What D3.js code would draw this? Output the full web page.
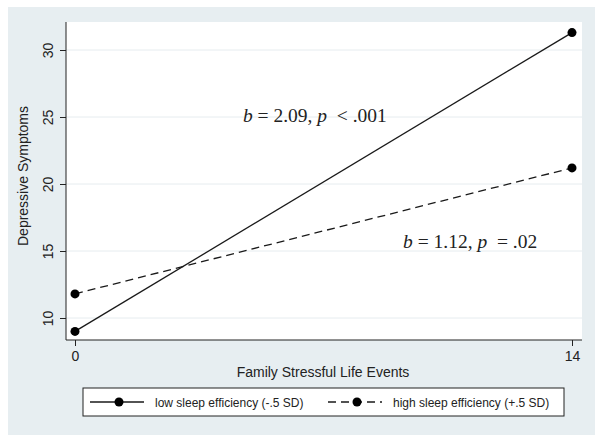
<!DOCTYPE html>
<html>
<head>
<meta charset="utf-8">
<script src="https://cdn.jsdelivr.net/npm/d3@7"></script>
<style>
  body { margin: 0; background: #fff; }
  text { font-family: "Liberation Sans", Arial, sans-serif; fill: #222; }
  .note { white-space: pre; }
</style>
</head>
<body>
<div id="chart"></div>
<script>
// chart values
var xValues = [0, 14];
var lowSleep = [9.0, 31.3];
var highSleep = [11.8, 21.2];
var yTicks = [10, 15, 20, 25, 30];
var xTicks = [0, 14];
var seriesNames = ["low sleep efficiency (-.5 SD)", "high sleep efficiency (+.5 SD)"];
var annotations = [
  {b: "2.09", op: "<", p: ".001", x: 4.73, y: 24.63},
  {b: "1.12", op: "=", p: ".02", x: 9.24, y: 15.22}
];

var width = 604, height = 444;
var plot = {left: 66, right: 582, top: 22, bottom: 340};

var svg = d3.select("#chart").append("svg")
  .attr("width", width)
  .attr("height", height);

// outer stata-style background
svg.append("rect")
  .attr("x", 8).attr("y", 7)
  .attr("width", 587).attr("height", 428)
  .attr("fill", "#e7eef1");

svg.append("rect")
  .attr("x", plot.left).attr("y", plot.top)
  .attr("width", plot.right - plot.left).attr("height", plot.bottom - plot.top)
  .attr("fill", "#fff");

var x = d3.scaleLinear().domain([0, 14]).range([75, 572]);
var y = d3.scaleLinear().domain([10, 30]).range([318, 50]);

// gridlines
svg.selectAll("line.grid")
  .data(yTicks)
  .enter()
  .append("line")
  .attr("class", "grid")
  .attr("x1", plot.left).attr("x2", plot.right)
  .attr("y1", function(d) { return y(d); })
  .attr("y2", function(d) { return y(d); })
  .attr("stroke", "#e6ecef")
  .attr("stroke-width", 1);

// y axis
var yAxis = svg.append("g")
  .attr("transform", "translate(" + plot.left + ",0)")
  .call(d3.axisLeft(y).tickValues(yTicks).tickSize(6).tickPadding(6).tickSizeOuter(0));
yAxis.select(".domain").remove();
yAxis.append("line")
  .attr("y1", plot.top).attr("y2", plot.bottom)
  .attr("stroke", "#222");
yAxis.selectAll(".tick line").attr("stroke", "#222");
yAxis.selectAll(".tick text")
  .attr("font-size", 14)
  .attr("fill", "#222")
  .attr("font-family", "Liberation Sans, Arial, sans-serif")
  .attr("transform", "rotate(-90)")
  .attr("x", 0).attr("y", -13)
  .attr("dy", 0)
  .attr("text-anchor", "middle");

// x axis
var xAxis = svg.append("g")
  .attr("transform", "translate(0," + plot.bottom + ")")
  .call(d3.axisBottom(x).tickValues(xTicks).tickSize(6).tickPadding(5).tickSizeOuter(0));
xAxis.select(".domain").remove();
xAxis.append("line")
  .attr("x1", plot.left).attr("x2", plot.right)
  .attr("stroke", "#222");
xAxis.selectAll(".tick line").attr("stroke", "#222");
xAxis.selectAll(".tick text")
  .attr("font-size", 14)
  .attr("fill", "#222")
  .attr("font-family", "Liberation Sans, Arial, sans-serif");

// axis titles
svg.append("text")
  .attr("transform", "translate(28,176) rotate(-90)")
  .attr("text-anchor", "middle")
  .attr("font-size", 14)
  .text("Depressive Symptoms");

svg.append("text")
  .attr("x", 323).attr("y", 377)
  .attr("text-anchor", "middle")
  .attr("font-size", 14)
  .text("Family Stressful Life Events");

// lines
var series = [
  {name: seriesNames[0], values: lowSleep, dash: null},
  {name: seriesNames[1], values: highSleep, dash: "8,5"}
];

var line = d3.line()
  .x(function(d) { return x(d[0]); })
  .y(function(d) { return y(d[1]); });

series.forEach(function(s) {
  var pts = xValues.map(function(v, i) { return [v, s.values[i]]; });
  svg.append("path")
    .datum(pts)
    .attr("d", line)
    .attr("fill", "none")
    .attr("stroke", "#1a1a1a")
    .attr("stroke-width", 1.3)
    .attr("stroke-dasharray", s.dash);
  svg.selectAll(null)
    .data(pts)
    .enter()
    .append("circle")
    .attr("cx", function(d) { return x(d[0]); })
    .attr("cy", function(d) { return y(d[1]); })
    .attr("r", 4.5)
    .attr("fill", "#000");
});

// annotations
annotations.forEach(function(a) {
  var t = svg.append("text")
    .attr("class", "note")
    .attr("x", x(a.x)).attr("y", y(a.y))
    .attr("text-anchor", "start")
    .attr("font-size", 19.5)
    .style("font-family", "'Liberation Serif', 'Times New Roman', serif");
  t.append("tspan").attr("font-style", "italic").text("b");
  t.append("tspan").text(" = " + a.b + ", ");
  t.append("tspan").attr("font-style", "italic").text("p");
  t.append("tspan").text("  " + a.op + " " + a.p);
});

// legend
var legend = svg.append("g");
legend.append("rect")
  .attr("x", 83).attr("y", 388)
  .attr("width", 481).attr("height", 28)
  .attr("fill", "#fff")
  .attr("stroke", "#222")
  .attr("stroke-width", 1);

var legendItems = [
  {x0: 90, name: seriesNames[0], dash: null},
  {x0: 328, name: seriesNames[1], dash: "8,5"}
];
legendItems.forEach(function(d) {
  legend.append("line")
    .attr("x1", d.x0).attr("x2", d.x0 + 54)
    .attr("y1", 402).attr("y2", 402)
    .attr("stroke", "#1a1a1a")
    .attr("stroke-width", 1.3)
    .attr("stroke-dasharray", d.dash);
  legend.append("circle")
    .attr("cx", d.x0 + 29).attr("cy", 402)
    .attr("r", 4.5)
    .attr("fill", "#000");
  legend.append("text")
    .attr("x", d.x0 + 65).attr("y", 406.5)
    .attr("font-size", 12)
    .text(d.name);
});
</script>
</body>
</html>
